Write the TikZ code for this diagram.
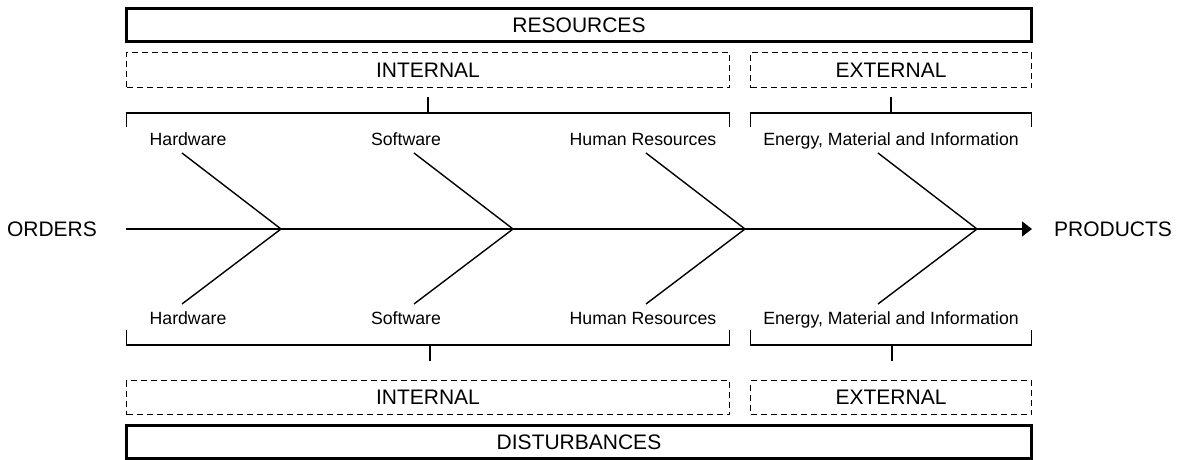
\documentclass[tikz,border=0pt]{standalone}
\usepackage{fontspec}
\setmainfont{Liberation Sans}
\usetikzlibrary{arrows.meta}
\begin{document}
\begin{tikzpicture}[x=1pt,y=-1pt,
  bigtext/.style={font=\fontsize{21}{24}\selectfont},
  smalltext/.style={font=\fontsize{17.7}{20}\selectfont, anchor=base, inner sep=0pt},
  solidbox/.style={draw, line width=2.2pt, minimum height=33pt, inner sep=0pt, bigtext},
  dashbox/.style={draw, line width=1.3pt, dash pattern=on 6pt off 4pt, inner sep=0pt, bigtext},
  thin/.style={line width=1.4pt},
  bone/.style={line width=1.4pt},
]
\useasboundingbox (0,0) rectangle (1183,460);

% resources side
\node[solidbox, minimum width=905pt] (res) at (579,25) {RESOURCES};
\node[dashbox, minimum width=603pt, minimum height=35pt] (rint) at (428,70) {INTERNAL};
\node[dashbox, minimum width=281pt, minimum height=35pt] (rext) at (891,70) {EXTERNAL};

% disturbances side
\node[dashbox, minimum width=603pt, minimum height=34pt] (dint) at (428,397.5) {INTERNAL};
\node[dashbox, minimum width=281pt, minimum height=34pt] (dext) at (891,397.5) {EXTERNAL};
\node[solidbox, minimum width=905pt] (dis) at (579,442) {DISTURBANCES};

% brackets grouping the categories
\coordinate (ti1) at (126.5,127); \coordinate (ti2) at (729.5,127);
\coordinate (te1) at (750.5,127); \coordinate (te2) at (1031.5,127);
\coordinate (tis) at (428,113);   \coordinate (tes) at (891,113);
\draw[thin] (ti1) -- (126.5,113) -- (729.5,113) -- (ti2);
\draw[thin] (te1) -- (750.5,113) -- (1031.5,113) -- (te2);
\draw[thin] (tis) -- (428,97);
\draw[thin] (tes) -- (891,97);

\coordinate (bi1) at (126.5,330); \coordinate (bi2) at (729.5,330);
\coordinate (be1) at (750.5,330); \coordinate (be2) at (1031.5,330);
\coordinate (bis) at (430,345);   \coordinate (bes) at (892,345);
\draw[thin] (bi1) -- (126.5,345) -- (729.5,345) -- (bi2);
\draw[thin] (be1) -- (750.5,345) -- (1031.5,345) -- (be2);
\draw[thin] (bis) -- (430,361);
\draw[thin] (bes) -- (892,361);

% spine
\node[bigtext] (orders) at (52,229) {ORDERS};
\node[bigtext] (products) at (1113,229) {PRODUCTS};
\coordinate (s0) at (126,229);
\coordinate (s1) at (1032,229);
\draw[thin, -{Triangle[length=10pt,width=15pt]}] (s0) -- (s1);

% bones and their labels
\foreach \jx/\lx/\txt [count=\i] in {281/188/Hardware, 513/406/Software, 745/643/Human Resources, 977/891/{Energy, Material and Information}} {
  \coordinate (j\i) at (\jx,229);
  \coordinate (bt\i) at (\jx-99,153);
  \coordinate (bb\i) at (\jx-99,304);
  \draw[bone] (bt\i) -- (j\i) -- (bb\i);
  \node[smalltext] (lt\i) at (\lx,145) {\txt};
  \node[smalltext] (lb\i) at (\lx,324.5) {\txt};
}
\end{tikzpicture}
\end{document}
